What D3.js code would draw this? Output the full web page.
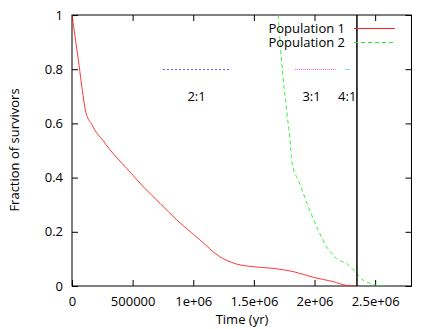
<!DOCTYPE html>
<html><head><meta charset="utf-8">
<script src="https://cdn.jsdelivr.net/npm/d3@7"></script>
<style>body{margin:0;background:#fff}text{font-family:"Open Sans","Liberation Sans",Arial,sans-serif;font-size:13px;fill:#000}</style>
</head><body><svg id="c" width="436" height="329"></svg>
<script>
const xTicks=[0,500000,1000000,1500000,2000000,2500000];
const xTickLabels=["0","500000","1e+06","1.5e+06","2e+06","2.5e+06"];
const yTicks=[0,0.2,0.4,0.6,0.8,1];
const yTickLabels=["0","0.2","0.4","0.6","0.8","1"];
const pop1T=[0,0.03,0.058,0.085,0.11,0.135,0.159,0.187,0.25,0.311,0.451,0.589,0.726,0.864,1.05,1.22,1.35,1.496,1.66,1.826,1.99,2.156,2.267,2.35];
const pop1V=[1,0.905,0.815,0.723,0.649,0.615,0.60,0.576,0.54,0.504,0.434,0.366,0.305,0.244,0.172,0.108,0.082,0.071,0.065,0.053,0.032,0.016,0.002,0];
const pop2T=[1.70,1.74,1.775,1.805,1.81,1.88,1.96,2.03,2.10,2.18,2.27,2.335,2.40,2.46,2.51,2.58];
const pop2V=[1.0,0.772,0.63,0.50,0.465,0.376,0.28,0.207,0.145,0.102,0.081,0.053,0.022,0.01,0.003,0];
const ratioLabels=["2:1","3:1","4:1"];
const ratioStart=[750000,1840000,2250000];
const ratioEnd=[1300000,2180000,2290000];
const ratioLabelX=[1027000,1976000,2270000];
const ratioColors=["#3030ff","#ff30ff","#30e0e0"];
const ratioDash=["2,2","1,1","none"];
const cutoffT=2350000;

const svg=d3.select("#c");
const L=72,R=411.5,T=15,B=286;
const x=d3.scaleLinear().domain([0,2800000]).range([L,R]);
const y=d3.scaleLinear().domain([0,1]).range([B,T]);

svg.append("clipPath").attr("id","cl").append("rect").attr("x",L).attr("y",T).attr("width",R-L).attr("height",B-T);

const xa=svg.append("g").attr("transform",`translate(0,${B})`)
 .call(d3.axisBottom(x).tickValues(xTicks).tickFormat((d,i)=>xTickLabels[i]).tickSizeInner(-6).tickSizeOuter(0).tickPadding(11));
const xt=svg.append("g").attr("transform",`translate(0,${T})`)
 .call(d3.axisTop(x).tickValues(xTicks).tickFormat("").tickSizeInner(-6).tickSizeOuter(0));
const ya=svg.append("g").attr("transform",`translate(${L},0)`)
 .call(d3.axisLeft(y).tickValues(yTicks).tickFormat((d,i)=>yTickLabels[i]).tickSizeInner(-6).tickSizeOuter(0).tickPadding(9));
const yr=svg.append("g").attr("transform",`translate(${R},0)`)
 .call(d3.axisRight(y).tickValues(yTicks).tickFormat("").tickSizeInner(-6).tickSizeOuter(0));
[xa,xt,ya,yr].forEach(g=>{g.select(".domain").remove();g.selectAll("line").attr("stroke","#000");g.selectAll("text").style("font-size","13px").attr("font-family",null);});
svg.append("rect").attr("x",L).attr("y",T).attr("width",R-L).attr("height",B-T).attr("fill","none").attr("stroke","#000");

const pg=svg.append("g");
ratioLabels.forEach((lab,i)=>{
 pg.append("line").attr("x1",x(ratioStart[i])).attr("x2",x(ratioEnd[i])).attr("y1",Math.round(y(0.8))+0.5).attr("y2",Math.round(y(0.8))+0.5)
  .attr("stroke",ratioColors[i]).attr("stroke-width",0.8).attr("stroke-dasharray",ratioDash[i]);
 pg.append("text").attr("x",x(ratioLabelX[i])).attr("y",y(0.7)).attr("dy","0.35em").attr("text-anchor","middle").text(lab);
});

const line=d3.line().x(d=>x(d[0]*1e6)).y(d=>y(d[1])).curve(d3.curveMonotoneX);
const g=svg.append("g").attr("clip-path","url(#cl)");
g.append("path").datum(pop1T.map((t,i)=>[t,pop1V[i]])).attr("d",line).attr("fill","none").attr("stroke","#ff2020").attr("stroke-width",0.9);
g.append("path").datum(pop2T.map((t,i)=>[t,pop2V[i]])).attr("d",line).attr("fill","none").attr("stroke","#20f020").attr("stroke-width",0.9).attr("stroke-dasharray","4,3");

svg.append("line").attr("x1",x(cutoffT)).attr("x2",x(cutoffT)).attr("y1",T).attr("y2",B).attr("stroke","#000").attr("stroke-width",1.5);

const leg=[["Population 1","#ff2020","none"],["Population 2","#20f020","4,3"]];
leg.forEach((d,i)=>{
 const yy=28.5+i*14;
 svg.append("text").attr("x",345).attr("y",yy).attr("dy","0.35em").attr("text-anchor","end").text(d[0]);
 svg.append("line").attr("x1",354).attr("x2",395).attr("y1",yy).attr("y2",yy).attr("stroke",d[1]).attr("stroke-width",1.2).attr("stroke-dasharray",d[2]);
});

svg.append("text").attr("x",242).attr("y",324).attr("text-anchor","middle").text("Time (yr)");
svg.append("text").attr("transform","translate(14,150) rotate(-90)").attr("text-anchor","middle").attr("dy","0.35em").text("Fraction of survivors");
</script></body></html>
